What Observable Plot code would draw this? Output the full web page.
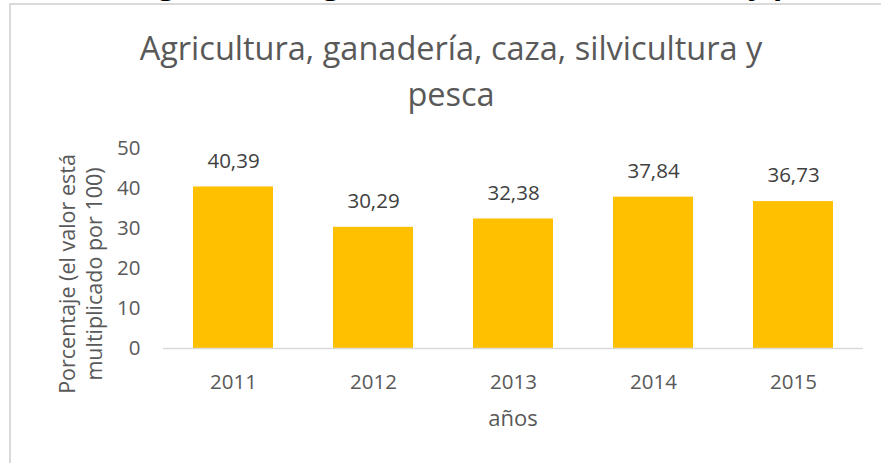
<!DOCTYPE html>
<html><head><meta charset="utf-8">
<script src="https://cdn.jsdelivr.net/npm/d3@7"></script>
<script src="https://cdn.jsdelivr.net/npm/@observablehq/plot@0.6"></script>
<style>
html,body{margin:0;padding:0;background:#fff;overflow:hidden;}
#wrap{position:relative;width:881px;height:463px;overflow:hidden;font-family:"Open Sans",sans-serif;}
#wrap svg{position:absolute;left:0;top:0;}
#cut{position:absolute;left:137px;top:-32px;font-weight:700;font-size:30px;line-height:30px;color:#000;white-space:nowrap;}
#frame{position:absolute;left:9px;top:3px;width:900px;height:500px;border-top:2px solid #d9d9d9;border-left:2px solid #d9d9d9;}
#title{position:absolute;left:0;width:902px;top:25px;text-align:center;font-size:32.5px;line-height:46px;color:#595959;}
#ylab{position:absolute;left:80px;top:274px;transform:translate(-50%,-50%) rotate(-90deg);white-space:nowrap;text-align:center;font-size:21.5px;line-height:27px;color:#595959;}
#xlab{position:absolute;left:0;width:1026px;top:402px;text-align:center;font-size:22px;line-height:30px;color:#595959;}
</style>
</head><body>
<div id="wrap">
  <div id="cut">Agricultura, ganadería, caza, silvicultura y pesca</div>
  <div id="frame"></div>
  <div id="chart"></div>
  <div id="title">Agricultura, ganadería, caza, silvicultura y<br>pesca</div>
  <div id="ylab">Porcentaje (el valor está<br>multiplicado por 100)</div>
  <div id="xlab">años</div>
</div>
<script>
const years = ["2011", "2012", "2013", "2014", "2015"];
const values = [40.39, 30.29, 32.38, 37.84, 36.73];
const yTicks = [0, 10, 20, 30, 40, 50];

const data = years.map((year, i) => ({year, value: values[i]}));
const fmt = v => v.toFixed(2).replace(".", ",");

const chart = Plot.plot({
  width: 881,
  height: 463,
  marginTop: 148,
  marginBottom: 115,
  marginLeft: 163,
  marginRight: 18,
  style: {fontFamily: "Open Sans", fontSize: "20.5px", color: "#595959", background: "transparent", overflow: "visible"},
  x: {domain: years, paddingInner: 0.4286, paddingOuter: 0.2143, label: null},
  y: {domain: [0, 50], label: null},
  marks: [
    Plot.barY(data, {x: "year", y: "value", fill: "#FFC000"}),
    Plot.ruleY([0], {stroke: "#d9d9d9", strokeWidth: 1.5}),
    Plot.axisX({tickSize: 0, tickPadding: 26, fontSize: 20.5, fill: "#595959", label: null}),
    Plot.axisY({ticks: yTicks, tickSize: 0, tickPadding: 23, fontSize: 20.5, fill: "#595959", label: null}),
    Plot.text(data, {x: "year", y: "value", text: d => fmt(d.value), dy: -26, fontSize: 20.5, fill: "#404040"})
  ]
});
document.getElementById("chart").appendChild(chart);
</script>
</body></html>
